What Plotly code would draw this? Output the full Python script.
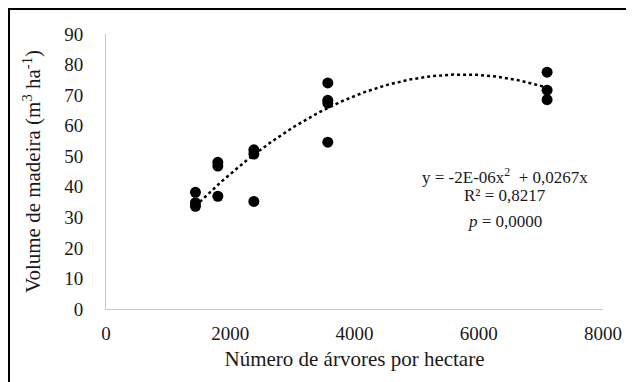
import numpy as np
import plotly.graph_objects as go

# Data
density = [1440, 1440, 1440, 1800, 1800, 1800, 2380, 2380, 2380,
           3570, 3570, 3570, 3570, 7100, 7100, 7100]
volume = [38.2, 34.8, 33.6, 48.0, 46.8, 36.9, 52.1, 50.7, 35.2,
          74.0, 68.3, 67.4, 54.6, 77.5, 71.6, 68.5]

x_ticks = [0, 2000, 4000, 6000, 8000]
y_ticks = [0, 10, 20, 30, 40, 50, 60, 70, 80, 90]

eq_lines = ["y = -2E-06x<sup>2</sup>  + 0,0267x", "R² = 0,8217", "<i>p</i> = 0,0000"]
eq_y = [43.6, 37.0, 28.8]

# Quadratic trendline through origin (least squares)
xa = np.array(density, dtype=float)
ya = np.array(volume, dtype=float)
A = np.column_stack([xa**2, xa])
coef, *_ = np.linalg.lstsq(A, ya, rcond=None)
xt = np.linspace(xa.min(), xa.max(), 200)
yt = coef[0] * xt**2 + coef[1] * xt

FONT = "Liberation Serif"
INK = "#1a1a1a"

fig = go.Figure()
fig.add_trace(go.Scatter(x=xt, y=yt, mode="lines",
                         line=dict(color="black", width=2.5, dash="dot"),
                         hoverinfo="skip", showlegend=False))
fig.add_trace(go.Scatter(x=density, y=volume, mode="markers",
                         marker=dict(color="black", size=11),
                         showlegend=False))

W, H = 634, 382
L, R, T, B = 98, 39, 26, 81
pw, ph = W - L - R, H - T - B

fig.update_layout(
    width=W, height=H,
    margin=dict(l=L, r=R, t=T, b=B, pad=0),
    paper_bgcolor="white", plot_bgcolor="white",
    font=dict(family=FONT, size=19, color=INK),
    xaxis=dict(range=[0, 8000], tickvals=x_ticks, ticktext=[str(v) for v in x_ticks],
               showgrid=False, zeroline=False, showline=True, linecolor="#c8c8c8",
               linewidth=1, ticks="", ticklabelstandoff=7,
               title=dict(text="Número de árvores por hectare", standoff=8,
                          font=dict(family=FONT, size=21))),
    yaxis=dict(range=[0, 90], tickvals=y_ticks, ticktext=[str(v) for v in y_ticks],
               showgrid=False, zeroline=False, showline=True, linecolor="#c8c8c8",
               linewidth=1, ticks="", ticklabelstandoff=18,
               title=dict(text="Volume de madeira (m<sup>3</sup> ha<sup>-1</sup>)", standoff=17,
                          font=dict(family=FONT, size=21))),
)

# Equation annotation
for txt, yy in zip(eq_lines, eq_y):
    fig.add_annotation(x=6420, y=yy, text=txt,
                       showarrow=False, xanchor="center", yanchor="middle",
                       font=dict(family=FONT, size=17, color=INK))

# Outer frame around whole figure
fig.add_shape(type="rect", xref="paper", yref="paper",
              x0=(1 - L) / pw, x1=(W - 1 - L) / pw,
              y0=-(B - 1) / ph, y1=(ph + T - 1) / ph,
              line=dict(color="black", width=2), fillcolor="rgba(0,0,0,0)")

fig.write_html("out.html")
